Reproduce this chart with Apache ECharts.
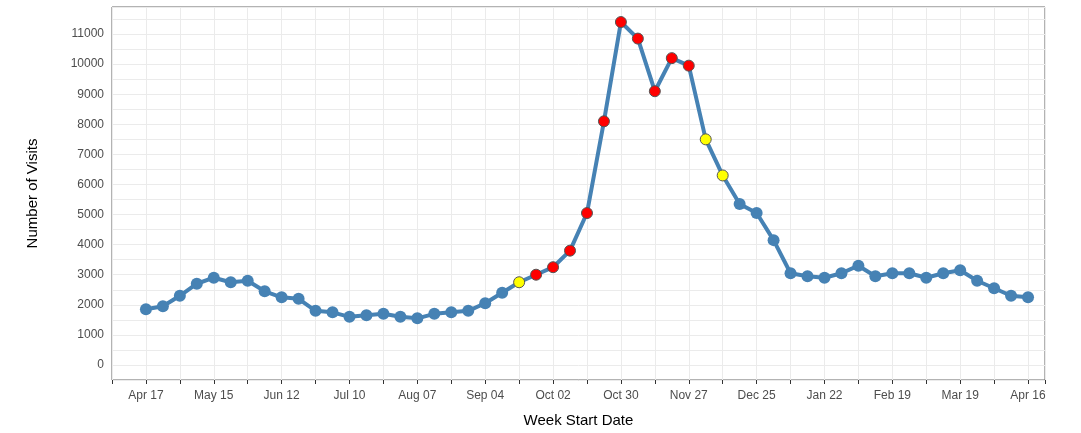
<!DOCTYPE html>
<html>
<head>
<meta charset="utf-8" />
<script src="https://cdn.jsdelivr.net/npm/echarts@6/dist/echarts.min.js"></script>
</head>
<body style="margin:0;background:#fff">
<div id="main" style="width:1081px;height:433px"></div>
<script type="text/javascript">
// weekly visits, week starting Apr 17 2017
var startDate = '2017-04-17';
var visits = [1850, 1950, 2300, 2700, 2900, 2750, 2800, 2450, 2250, 2200,
    1800, 1750, 1600, 1650, 1700, 1600, 1550, 1700, 1750, 1800,
    2050, 2400, 2750, 3000, 3250, 3800, 5050, 8100, 11400, 10850,
    9100, 10200, 9950, 7500, 6300, 5350, 5050, 4150, 3050, 2950,
    2900, 3050, 3300, 2950, 3050, 3050, 2900, 3050, 3150, 2800,
    2550, 2300, 2250];
// 0 = normal, 1 = yellow, 2 = red
var flags = [0,0,0,0,0,0,0,0,0,0, 0,0,0,0,0,0,0,0,0,0,
    0,0,1,2,2,2,2,2,2,2, 2,2,2,1,1,0,0,0,0,0,
    0,0,0,0,0,0,0,0,0,0, 0,0,0];
var months = ['Jan','Feb','Mar','Apr','May','Jun','Jul','Aug','Sep','Oct','Nov','Dec'];

function weekLabel(i) {
    var d = new Date(startDate + 'T00:00:00');
    d.setDate(d.getDate() + i * 7);
    var dd = d.getDate();
    return months[d.getMonth()] + ' ' + (dd < 10 ? '0' + dd : dd);
}

var fills = ['#4682B4', '#FFFF00', '#FF0000'];
var points = visits.map(function (v, i) {
    var f = flags[i];
    return {
        value: [i, v],
        itemStyle: f ? { color: fills[f], borderColor: '#555', borderWidth: 1 } : { color: fills[0] },
        symbolSize: f ? 11 : 12
    };
});

var myChart = echarts.init(document.getElementById('main'));
var option = {
    animation: false,
    grid: { left: 112, right: 36, top: 7, bottom: 52, show: true, borderColor: '#666', borderWidth: 1 },
    xAxis: {
        type: 'value', min: -2, max: 53, interval: 2,
        name: 'Week Start Date', nameLocation: 'middle', nameGap: 33,
        nameTextStyle: { fontSize: 15, color: '#000' },
        axisLine: { show: false, onZero: false },
        axisTick: { length: 4, lineStyle: { color: '#333' } },
        axisLabel: {
            color: '#4d4d4d', fontSize: 12, margin: 10,
            formatter: function (v) { return (v >= 0 && v % 4 === 0) ? weekLabel(v) : ''; }
        },
        splitLine: { lineStyle: { color: '#ebebeb' } }
    },
    yAxis: {
        type: 'value', min: -500, max: 11900, interval: 500,
        name: 'Number of Visits', nameLocation: 'middle', nameGap: 72,
        nameTextStyle: { fontSize: 15, color: '#000' },
        axisLine: { show: false, onZero: false },
        axisTick: { show: false },
        axisLabel: {
            color: '#4d4d4d', fontSize: 12,
            formatter: function (v) { return (v >= 0 && v % 1000 === 0) ? v : ''; }
        },
        splitLine: { lineStyle: { color: '#ebebeb' } }
    },
    series: [{
        type: 'line',
        data: points,
        symbol: 'circle',
        lineStyle: { color: '#4682B4', width: 4 },
        z: 3
    }]
};
myChart.setOption(option);
</script>
</body>
</html>
